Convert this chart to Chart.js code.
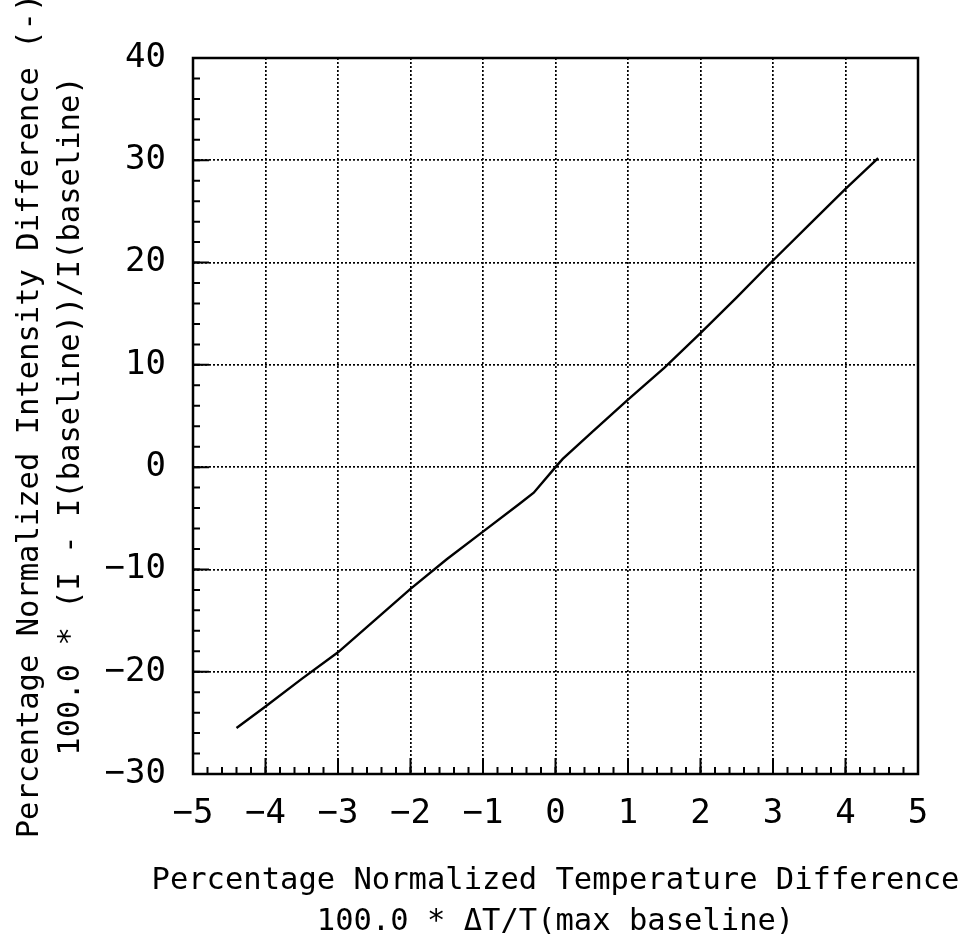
<!DOCTYPE html>
<html>
<head>
<meta charset="utf-8">
<script src="https://cdn.jsdelivr.net/npm/chart.js@4"></script>
<style>
    html, body { margin: 0; padding: 0; background: #fff; }
    #wrap { width: 960px; height: 938px; }
</style>
</head>
<body>
<div id="wrap"><canvas id="chart"></canvas></div>
<script>
// Data
const tempDiff = [-4.4, -4, -3.5, -3, -2.5, -2, -1.5, -1, -0.5, -0.3, 0, 0.1, 0.5, 1, 1.5, 2, 2.5, 3, 3.5, 4, 4.45];
const intensityDiff = [-25.5, -23.4, -20.7, -18.1, -15.0, -11.9, -9.0, -6.3, -3.6, -2.5, 0, 0.8, 3.4, 6.6, 9.7, 13.1, 16.6, 20.2, 23.7, 27.2, 30.2];

const xTitle = ['Percentage Normalized Temperature Difference', '100.0 * \u0394T/T(max baseline)'];
const yTitle = ['Percentage Normalized Intensity Difference (-)', '100.0 * (I - I(baseline))/I(baseline)'];

const fontFamily = '"DejaVu Sans Mono", "Liberation Mono", monospace';

// Frame plus inward tick marks, like the plotter output
const plotterFrame =
{
    id: 'plotterFrame',

    afterDraw(chart)
    {
        const ctx = chart.ctx;
        const area = chart.chartArea;
        const x = chart.scales.x;
        const y = chart.scales.y;

        ctx.save();
        ctx.strokeStyle = '#000';
        ctx.setLineDash([]);

        // minor ticks
        ctx.lineWidth = 2;
        ctx.beginPath();
        for (let v = x.min; v <= x.max + 1e-9; v += 0.2)
        {
            const px = x.getPixelForValue(v);
            ctx.moveTo(px, area.bottom);
            ctx.lineTo(px, area.bottom - 7);
        }
        for (let v = y.min; v <= y.max + 1e-9; v += 2)
        {
            const py = y.getPixelForValue(v);
            ctx.moveTo(area.left, py);
            ctx.lineTo(area.left + 7, py);
        }
        ctx.stroke();

        // major ticks
        ctx.beginPath();
        x.ticks.forEach(t =>
        {
            const px = x.getPixelForValue(t.value);
            ctx.moveTo(px, area.bottom);
            ctx.lineTo(px, area.bottom - 16);
        });
        y.ticks.forEach(t =>
        {
            const py = y.getPixelForValue(t.value);
            ctx.moveTo(area.left, py);
            ctx.lineTo(area.left + 16, py);
        });
        ctx.stroke();

        // frame
        ctx.lineWidth = 2.5;
        ctx.strokeRect(area.left, area.top, area.right - area.left, area.bottom - area.top);

        // axis titles (drawn here so they are not squeezed to the axis width)
        ctx.fillStyle = '#000';
        ctx.font = '30.5px ' + fontFamily;
        ctx.textAlign = 'center';
        ctx.textBaseline = 'alphabetic';

        const cx = (area.left + area.right) / 2;
        ctx.fillText(xTitle[0], cx, 889);
        ctx.fillText(xTitle[1], cx, 930);

        const cy = (area.top + area.bottom) / 2;
        ctx.translate(0, cy);
        ctx.rotate(-Math.PI / 2);
        ctx.fillText(yTitle[0], 0, 38);
        ctx.fillText(yTitle[1], 0, 79);
        ctx.restore();
    }
};

new Chart(document.getElementById('chart'),
{
    type: 'line',

    data:
    {
        datasets:
        [
            {
                data: tempDiff.map((t, i) => ({ x: t, y: intensityDiff[i] })),
                borderColor: '#000',
                borderWidth: 2.4,
                pointRadius: 0,
                tension: 0,
                fill: false
            }
        ]
    },

    options:
    {
        responsive: true,
        maintainAspectRatio: false,
        animation: false,

        layout:
        {
            padding: { top: 58, right: 42, left: 0, bottom: 0 }
        },

        plugins:
        {
            legend: { display: false },
            tooltip: { enabled: false }
        },

        scales:
        {
            x:
            {
                type: 'linear',
                min: -5,
                max: 5,

                afterFit: (scale) => { scale.height = 164; },

                ticks:
                {
                    stepSize: 1,
                    padding: 20,
                    color: '#000',
                    font: { family: fontFamily, size: 34 },
                    callback: (v) => String(v).replace('-', '\u2212')
                },

                grid:
                {
                    color: '#000',
                    lineWidth: 1.7,
                    drawTicks: false
                },

                border: { display: false, dash: [2, 2] }
            },

            y:
            {
                type: 'linear',
                min: -30,
                max: 40,

                afterFit: (scale) => { scale.width = 193; },

                ticks:
                {
                    stepSize: 10,
                    padding: 27,
                    color: '#000',
                    font: { family: fontFamily, size: 34 },
                    callback: (v) => String(v).replace('-', '\u2212')
                },

                grid:
                {
                    color: '#000',
                    lineWidth: 1.7,
                    drawTicks: false
                },

                border: { display: false, dash: [2, 2] }
            }
        }
    },

    plugins: [plotterFrame]
});
</script>
</body>
</html>
